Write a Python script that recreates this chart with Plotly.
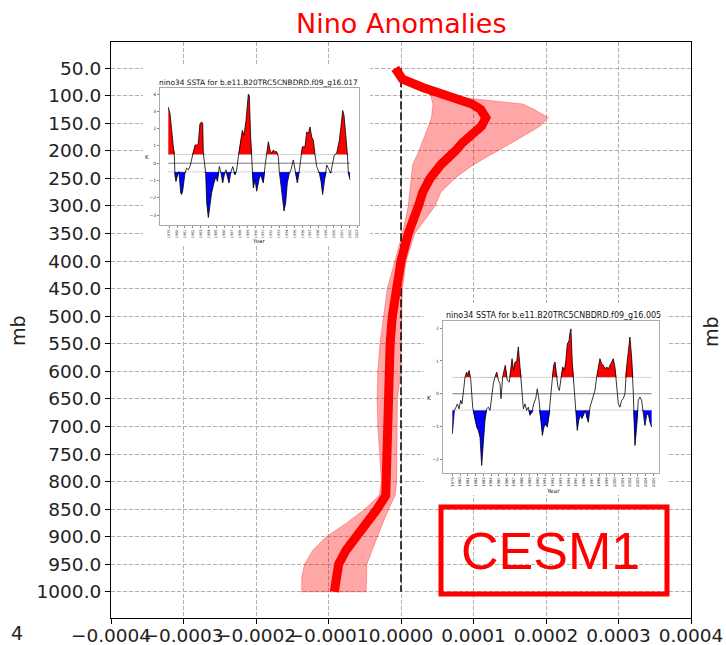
import plotly.graph_objects as go

# ---------------- main profile data ----------------
LEVELS = [50, 70, 85, 100, 115, 125, 140, 155, 170, 185, 200, 225, 250, 275, 300, 350, 400,
          450, 500, 550, 600, 650, 700, 750, 800, 825, 850, 875, 900, 925, 950, 975, 1000]
MEAN = [-0.08e-4, 0.02e-4, 0.30e-4, 0.66e-4, 0.98e-4, 1.10e-4, 1.17e-4, 1.11e-4, 0.97e-4, 0.85e-4,
        0.75e-4, 0.55e-4, 0.40e-4, 0.30e-4, 0.24e-4, 0.10e-4, 0.00, -0.07e-4, -0.12e-4, -0.15e-4,
        -0.16e-4, -0.18e-4, -0.17e-4, -0.17e-4, -0.18e-4, -0.21e-4, -0.33e-4, -0.47e-4, -0.64e-4,
        -0.76e-4, -0.86e-4, -0.89e-4, -0.92e-4]
LOWER = [-0.08e-4, 0.02e-4, 0.30e-4, 0.41e-4, 0.44e-4, 0.43e-4, 0.42e-4, 0.38e-4, 0.33e-4, 0.29e-4,
         0.25e-4, 0.16e-4, 0.14e-4, 0.12e-4, 0.10e-4, 0.02e-4, -0.08e-4, -0.19e-4, -0.24e-4, -0.29e-4,
         -0.32e-4, -0.33e-4, -0.32e-4, -0.30e-4, -0.27e-4, -0.30e-4, -0.50e-4, -0.75e-4, -1.03e-4,
         -1.22e-4, -1.33e-4, -1.37e-4, -1.37e-4]
UPPER = [-0.08e-4, 0.02e-4, 0.30e-4, 0.61e-4, 1.68e-4, 1.84e-4, 2.03e-4, 1.92e-4, 1.73e-4, 1.54e-4,
         1.34e-4, 1.00e-4, 0.74e-4, 0.55e-4, 0.47e-4, 0.19e-4, 0.07e-4, 0.02e-4, 0.01e-4, 0.00,
         0.00, -0.05e-4, -0.05e-4, -0.06e-4, -0.06e-4, -0.08e-4, -0.17e-4, -0.25e-4, -0.33e-4,
         -0.40e-4, -0.47e-4, -0.48e-4, -0.48e-4]
ZERO_X = 0.0

Y_TICKS = [50, 100, 150, 200, 250, 300, 350, 400, 450, 500, 550, 600, 650, 700, 750, 800, 850, 900, 950, 1000]
X_TICKS = [-0.0004, -0.0003, -0.0002, -0.0001, 0.0, 0.0001, 0.0002, 0.0003, 0.0004]

# ---------------- inset 1 (ensemble member 017) ----------------
I1_TITLE = "nino34 SSTA for b.e11.B20TRC5CNBDRD.f09_g16.017"
I1_BASE = 1979
I1_T = [-0.13, 0.09, 0.51, 0.64, 0.72, 0.85, 1.02, 1.23, 1.45, 1.57, 1.70, 2.00, 2.21, 2.43, 2.64, 2.85,
        3.06, 3.28, 3.49, 3.70, 3.91, 4.13, 4.26, 4.34, 4.64, 4.77, 4.98, 5.19, 5.40, 5.70, 5.96, 6.13,
        6.38, 6.60, 6.81, 7.02, 7.23, 7.40, 7.62, 7.83, 8.09, 8.38, 8.60, 8.81, 9.02, 9.32, 9.53, 9.79,
        10.09, 10.21, 10.38, 10.55, 10.72, 10.94, 11.15, 11.36, 11.57, 11.79, 12.00, 12.21, 12.43, 12.64,
        12.85, 13.06, 13.28, 13.49, 13.70, 13.91, 14.04, 14.34, 14.55, 14.64, 14.85, 15.06, 15.32, 15.53,
        15.83, 16.04, 16.34, 16.55, 16.77, 16.98, 17.32, 17.53, 17.74, 17.96, 18.17, 18.38, 18.60, 18.81,
        19.15, 19.36, 19.57, 19.79, 20.09, 20.30, 20.60, 20.85, 21.06, 21.36, 21.70, 21.91, 22.13, 22.30,
        22.51, 22.72, 22.85, 23.06]
I1_V = [3.24, 2.86, 0.95, 0.48, -0.72, -1.05, -0.76, -0.48, -1.71, -1.81, -1.62, -0.57, -0.29, -0.38,
        -0.19, 0.19, 0.67, 1.05, 1.05, 1.14, 2.29, 2.38, 2.29, 0.57, -0.57, -2.29, -3.14, -2.48, -1.71,
        -1.14, -0.76, -1.05, -0.19, -0.57, -1.14, -0.67, -0.38, -0.76, -1.14, -0.57, -0.19, -0.67, -0.38,
        0.38, 1.14, 1.90, 1.62, 2.48, 4.0, 3.9, 1.52, -0.38, -1.43, -0.95, -1.62, -1.14, -0.67, -0.86,
        -1.14, -0.19, 0.57, 1.24, 0.76, 0.57, 0.76, 0.67, 0.67, 0.38, -0.48, -1.52, -2.19, -2.76, -2.29,
        -1.14, -0.57, -0.38, 0.19, -0.29, -1.14, -0.57, 0.38, 0.95, 0.95, 1.81, 1.71, 2.10, 1.52, 1.33,
        0.48, -0.19, -0.57, -1.05, -1.81, -0.95, -0.10, -0.29, -0.57, 0.0, 0.48, 0.57, 1.33, 2.10, 3.05,
        2.76, 1.81, 0.57, -0.57, -0.95]
I1_YEARS = list(range(1979, 2004))
I1_YTICKS = [-3, -2, -1, 0, 1, 2, 3, 4]

# ---------------- inset 2 (ensemble member 005) ----------------
I2_TITLE = "nino34 SSTA for b.e11.B20TRC5CNBDRD.f09_g16.005"
I2_BASE = 1979
I2_T = [0, .13, .26, .47, .65, .86, 1.08, 1.25, 1.42, 1.64, 1.85, 1.98, 2.16, 2.37, 2.63, 2.93, 3.15, 3.36,
        3.58, 3.79, 4.01, 4.22, 4.44, 4.66, 4.87, 5.09, 5.30, 5.52, 5.73, 5.95, 6.16, 6.29, 6.51, 6.68,
        6.85, 7.11, 7.37, 7.59, 7.72, 7.93, 8.10, 8.32, 8.53, 8.75, 8.97, 9.18, 9.40, 9.61, 9.83, 10.04,
        10.30, 10.52, 10.78, 10.99, 11.21, 11.42, 11.64, 11.85, 12.07, 12.28, 12.50, 12.67, 12.89, 13.10,
        13.28, 13.49, 13.66, 13.84, 14.01, 14.27, 14.48, 14.66, 14.87, 15.09, 15.22, 15.34, 15.52, 15.73,
        15.95, 16.16, 16.34, 16.55, 16.77, 16.98, 17.20, 17.37, 17.59, 17.80, 18.02, 18.23, 18.45, 18.66,
        18.88, 19.09, 19.31, 19.53, 19.74, 19.96, 20.17, 20.39, 20.60, 20.82, 21.03, 21.25, 21.47, 21.68,
        21.90, 22.11, 22.33, 22.54, 22.76, 22.97, 23.19, 23.41, 23.62, 23.84, 24.05, 24.27, 24.48, 24.70,
        24.91, 25.13, 25.34, 25.56, 25.78]
I2_V = [-1.22, -0.71, -0.51, -0.41, -0.31, -0.46, -0.20, -0.31, 0.10, 0.51, 0.66, 0.56, 0.71, 0.46,
        -0.41, -0.82, -1.02, -1.12, -1.33, -2.19, -1.53, -0.82, -0.46, -0.41, -0.51, 0.0, 0.31, 0.51,
        0.66, 0.41, 0.31, -0.15, 0.51, 0.71, 0.87, 0.41, 0.36, 0.82, 1.07, 0.71, 0.97, 0.97, 1.43, 0.82,
        0.0, -0.46, -0.31, -0.51, -0.41, -0.66, -0.56, -0.31, -0.15, 0.15, -0.20, -0.82, -1.27, -1.02,
        -0.92, -1.02, -0.66, -0.20, 0.41, 0.87, 0.97, 0.61, 0.20, 0.10, 0.41, 0.82, 0.71, 0.97, 1.52,
        1.62, 1.88, 1.98, 0.92, 0.20, -0.41, -1.12, -0.82, -0.66, -0.76, -0.66, -0.51, -0.71, -0.87,
        -0.41, -0.25, -0.10, 0.10, 0.51, 0.82, 1.07, 0.92, 0.87, 0.76, 0.82, 0.76, 0.87, 0.97, 1.07,
        0.82, 0.25, -0.31, -0.41, -0.20, -0.15, 0.0, 0.82, 1.33, 1.73, 1.12, 0.0, -1.58, -1.02, -0.20,
        -0.10, -0.20, -0.56, -0.97, -0.66, -0.61, -0.87, -1.02]
I2_YEARS = list(range(1979, 2006))
I2_YTICKS = [-2, -1, 0, 1, 2]

THRESH = 0.5

W, H = 726, 645
FONT = "DejaVu Sans"

# main axes placement (pixels) and ranges
L, R, T, B = 111, 691, 42, 618
XR = [-0.0004, 0.0004]
YR = [1047.5, 2.5]


def px(x):
    return x / W


def py(y):
    return 1 - y / H


def minus(s):
    return s.replace("-", "\u2212")


def data_x(p):
    return XR[0] + (p - L) / (R - L) * (XR[1] - XR[0])


def data_y(p):
    return YR[1] + (p - T) / (B - T) * (YR[0] - YR[1])


fig = go.Figure()

# ---- main profile ----
fig.add_trace(go.Scatter(
    x=LOWER + UPPER[::-1], y=LEVELS + LEVELS[::-1], fill="toself",
    fillcolor="rgba(255,0,0,0.35)", line=dict(color="rgba(255,0,0,0.3)", width=1),
    mode="lines", hoverinfo="skip", xaxis="x", yaxis="y"))
fig.add_trace(go.Scatter(
    x=[ZERO_X, ZERO_X], y=[LEVELS[0], LEVELS[-1]], mode="lines",
    line=dict(color="black", width=1.5, dash="8px,3px"), xaxis="x", yaxis="y"))
fig.add_trace(go.Scatter(
    x=MEAN, y=LEVELS, mode="lines", line=dict(color="#ff0000", width=9),
    xaxis="x", yaxis="y"))


def add_inset(xa, ya, t_off, base, vals):
    years = [base + t for t in t_off]
    hi = [max(v, THRESH) for v in vals]
    lo = [min(v, -THRESH) for v in vals]
    clear = dict(width=0, color="rgba(0,0,0,0)")
    fig.add_trace(go.Scatter(x=years, y=[THRESH] * len(years), mode="lines",
                             line=clear, xaxis=xa, yaxis=ya))
    fig.add_trace(go.Scatter(x=years, y=hi, mode="lines", fill="tonexty", fillcolor="#ff0000",
                             line=clear, xaxis=xa, yaxis=ya))
    fig.add_trace(go.Scatter(x=years, y=[-THRESH] * len(years), mode="lines",
                             line=clear, xaxis=xa, yaxis=ya))
    fig.add_trace(go.Scatter(x=years, y=lo, mode="lines", fill="tonexty", fillcolor="#0000ff",
                             line=clear, xaxis=xa, yaxis=ya))
    fig.add_trace(go.Scatter(x=[years[0], years[-1]], y=[THRESH, THRESH], mode="lines",
                             line=dict(color="#999999", width=0.8, dash="1px,1px"), xaxis=xa, yaxis=ya))
    fig.add_trace(go.Scatter(x=[years[0], years[-1]], y=[-THRESH, -THRESH], mode="lines",
                             line=dict(color="#999999", width=0.8, dash="1px,1px"), xaxis=xa, yaxis=ya))
    fig.add_trace(go.Scatter(x=[years[0], years[-1]], y=[0, 0], mode="lines",
                             line=dict(color="#555555", width=0.8), xaxis=xa, yaxis=ya))
    fig.add_trace(go.Scatter(x=years, y=vals, mode="lines",
                             line=dict(color="black", width=0.8), xaxis=xa, yaxis=ya))


add_inset("x2", "y2", I1_T, I1_BASE, I1_V)
add_inset("x3", "y3", I2_T, I2_BASE, I2_V)

# ---- layout ----
axis_common = dict(showline=True, mirror=True, linecolor="black", linewidth=1,
                   ticks="outside", ticklen=5, tickcolor="black", automargin=False,
                   tickfont=dict(family=FONT, size=18.5, color="#222"),
                   showgrid=True, gridcolor="#b0b0b0", griddash="4px,2px", gridwidth=1,
                   zeroline=False)

inset_axis = dict(showline=True, mirror=True, linecolor="#aaaaaa", linewidth=1, automargin=False,
                  ticks="outside", ticklen=2, tickcolor="#888", showgrid=False, zeroline=False,
                  tickfont=dict(family=FONT, size=4.5, color="#333"))

fig.update_layout(
    width=W, height=H, margin=dict(l=0, r=0, t=0, b=0, autoexpand=False),
    paper_bgcolor="white", plot_bgcolor="white", showlegend=False,
    xaxis=dict(domain=[px(L), px(R)], range=XR, anchor="y", tickangle=0, ticklabelstandoff=-4,
               tickvals=X_TICKS, ticktext=[minus(f"{v:.4f}") for v in X_TICKS], **axis_common),
    yaxis=dict(domain=[py(B), py(T)], range=YR, anchor="x",
               tickvals=Y_TICKS, ticktext=[f"{v:.1f}" for v in Y_TICKS], **axis_common),
    xaxis2=dict(domain=[px(160), px(359)], range=[1977.81, 2003.21], anchor="y2",
                tickvals=I1_YEARS, ticktext=[str(y) for y in I1_YEARS], tickangle=-90,
                **{**inset_axis, "tickfont": dict(family=FONT, size=3.5, color="#333")}),
    yaxis2=dict(domain=[py(225), py(88.3)], range=[-3.57, 4.33], anchor="x2",
                tickvals=I1_YTICKS, ticktext=[minus(str(v)) for v in I1_YTICKS], **inset_axis),
    xaxis3=dict(domain=[px(442.7), px(659.3)], range=[1977.75, 2005.77], anchor="y3",
                tickvals=I2_YEARS, ticktext=[str(y) for y in I2_YEARS], tickangle=-90,
                **{**inset_axis, "tickfont": dict(family=FONT, size=3.8, color="#333")}),
    yaxis3=dict(domain=[py(472.7), py(320.7)], range=[-2.41, 2.23], anchor="x3",
                tickvals=I2_YTICKS, ticktext=[minus(str(v)) for v in I2_YTICKS], **inset_axis),
)

shapes = [
    # white backgrounds of the pasted inset figures (cover the main grid, below main traces)
    dict(type="rect", xref="x", yref="y", layer="between",
         x0=data_x(143), x1=data_x(370), y0=data_y(245), y1=data_y(66),
         fillcolor="white", line=dict(width=0)),
    dict(type="rect", xref="x", yref="y", layer="between",
         x0=data_x(424), x1=data_x(668), y0=data_y(495), y1=data_y(303),
         fillcolor="white", line=dict(width=0)),
    # CESM1 label box
    dict(type="rect", xref="paper", yref="paper", layer="above",
         x0=px(441), x1=px(667), y0=py(594), y1=py(507),
         line=dict(color="#ff0000", width=5)),
]
fig.update_layout(shapes=shapes)

ann = []


def text(x, y, s, size, color="#222", family=FONT, angle=0):
    ann.append(dict(x=px(x), y=py(y), xref="paper", yref="paper", text=s, showarrow=False,
                    xanchor="center", yanchor="middle", textangle=angle,
                    font=dict(family=family, size=size, color=color)))


text(401, 23, "Nino Anomalies", 27, color="#ff0000")
text(550, 551, "CESM1", 52, color="#ff0000", family="Liberation Sans")
text(18, 331, "mb", 19, angle=-90)
text(711, 332, "mb", 19, angle=-90)
text(17, 633, "4", 19)
# inset labels
text(258, 82.7, I1_TITLE, 7.4, color="#111")
text(147, 157, "K", 5.5)
text(258, 240.7, "Year", 5.5)
text(553, 315, I2_TITLE, 8, color="#111")
text(429, 397, "K", 6)
text(553, 490.7, "Year", 6)
fig.update_layout(annotations=ann)

fig.write_html("out.html")
